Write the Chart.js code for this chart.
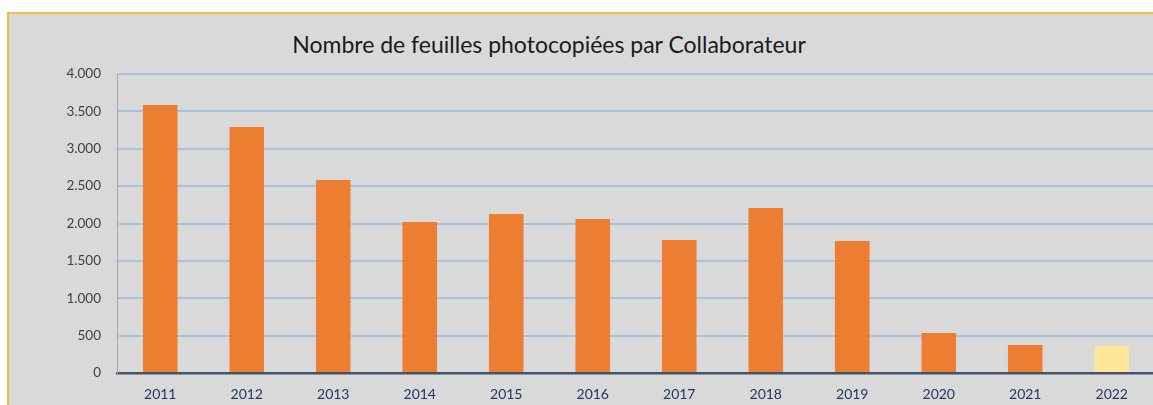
<!DOCTYPE html>
<html>
<head>
    <title>Nombre de feuilles photocopiées par Collaborateur</title>
    <script src="https://cdn.jsdelivr.net/npm/chart.js@4.4.0/dist/chart.umd.min.js"></script>
    <style>
        html, body {
            margin: 0;
            padding: 0;
            width: 1153px;
            height: 405px;
            overflow: hidden;
            background-color: white;
            font-family: Lato, sans-serif;
        }
        .frame {
            position: absolute;
            left: 7px;
            top: 12px;
            width: 1160px;
            height: 400px;
            background-color: #d9d9d9;
            border-top: 2px solid #f0bf3c;
            border-left: 2px solid #f0bf3c;
        }
        .title {
            position: absolute;
            left: 0;
            width: 1098px;
            top: 30px;
            text-align: center;
            font-size: 23px;
            color: #1a1a1a;
        }
        .chart-box {
            position: absolute;
            left: 0;
            top: 0;
            width: 1156px;
            height: 413px;
        }
    </style>
</head>
<body>
    <div class="frame"></div>
    <div class="title">Nombre de feuilles photocopiées par Collaborateur</div>
    <div class="chart-box">
        <canvas id="chart"></canvas>
    </div>

    <script>
        const years = ['2011', '2012', '2013', '2014', '2015', '2016', '2017', '2018', '2019', '2020', '2021', '2022'];
        const sheets = [3585, 3290, 2582, 2020, 2127, 2060, 1779, 2207, 1766, 535, 375, 361];
        const barColors = ['#ed7d31', '#ed7d31', '#ed7d31', '#ed7d31', '#ed7d31', '#ed7d31',
                           '#ed7d31', '#ed7d31', '#ed7d31', '#ed7d31', '#ed7d31', '#ffe699'];

        // thousands separator with a dot, as in the original
        function formatNumber(v) {
            return String(v).replace(/\B(?=(\d{3})+(?!\d))/g, '.');
        }

        new Chart(document.getElementById('chart'), {
            type: 'bar',
            data: {
                labels: years,
                datasets: [{
                    data: sheets,
                    backgroundColor: barColors,
                    borderWidth: 0,
                    barPercentage: 0.4,
                    categoryPercentage: 1
                }]
            },
            options: {
                responsive: true,
                maintainAspectRatio: false,
                animation: false,
                layout: {
                    padding: { top: 74, right: 1, bottom: 0, left: 0 }
                },
                plugins: {
                    legend: { display: false },
                    tooltip: { enabled: false }
                },
                scales: {
                    x: {
                        grid: { display: false },
                        border: { color: '#44546a', width: 2.5 },
                        ticks: {
                            color: '#1f3864',
                            font: { family: 'Lato', size: 14 },
                            padding: 5,
                            maxRotation: 0
                        },
                        afterFit: function (scale) { scale.height = 40; }
                    },
                    y: {
                        min: 0,
                        max: 4000,
                        afterFit: function (scale) { scale.width = 117; },
                        grid: { color: '#a4c2e4', lineWidth: 2, drawTicks: false },
                        border: { color: '#a6a6a6', width: 1 },
                        ticks: {
                            stepSize: 500,
                            color: '#404040',
                            font: { family: 'Lato', size: 13.5 },
                            padding: 16,
                            callback: function (value) { return formatNumber(value); }
                        }
                    }
                }
            }
        });
    </script>
</body>
</html>
